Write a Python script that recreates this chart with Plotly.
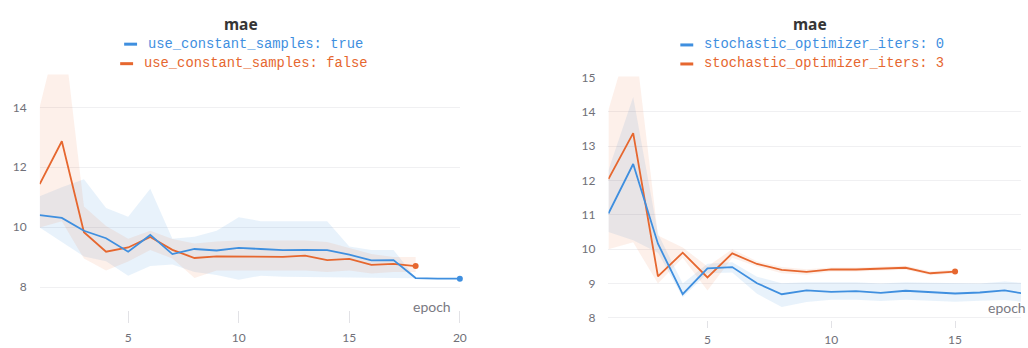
import plotly.graph_objects as go

# ---- data: mae per epoch (mean with min/max band across runs) ----
epochs_left = list(range(1, 21))
left_true_mean = [10.40, 10.31, 9.88, 9.63, 9.18, 9.74, 9.10, 9.27, 9.22, 9.31,
                  9.27, 9.23, 9.24, 9.23, 9.08, 8.89, 8.90, 8.30, 8.28, 8.28]
left_true_hi = [11.03, 11.33, 11.60, 10.64, 10.35, 11.28, 9.61, 9.68, 9.88, 10.33,
                10.20, 10.20, 10.20, 10.20, 9.35, 9.24, 9.24, 8.30, 8.28, 8.28]
left_true_lo = [9.99, 9.50, 9.02, 8.86, 8.38, 8.70, 8.75, 8.50, 8.40, 8.24,
                8.38, 8.34, 8.33, 8.32, 8.31, 8.31, 8.31, 8.30, 8.28, 8.28]

epochs_left_false = list(range(1, 19))
left_false_mean = [11.44, 12.87, 9.83, 9.18, 9.32, 9.67, 9.24, 8.97, 9.02, 9.02,
                   9.02, 9.01, 9.05, 8.90, 8.94, 8.74, 8.77, 8.70]
left_false_hi = [14.02, 17.00, 10.69, 10.04, 9.61, 9.88, 9.60, 9.45, 9.52, 9.55,
                 9.55, 9.55, 9.55, 9.50, 9.30, 9.10, 9.00, 9.00]
left_false_lo = [9.99, 10.20, 8.95, 8.55, 8.85, 9.24, 8.95, 8.30, 8.55, 8.55,
                 8.55, 8.55, 8.55, 8.50, 8.55, 8.45, 8.50, 8.50]

epochs_right_0 = list(range(1, 19))
right_0_mean = [11.04, 12.48, 10.16, 8.69, 9.44, 9.48, 9.01, 8.69, 8.80, 8.76,
                8.78, 8.73, 8.79, 8.76, 8.71, 8.74, 8.80, 8.68]
right_0_hi = [12.30, 14.43, 10.45, 9.00, 9.58, 9.62, 9.20, 9.01, 9.04, 9.04,
              9.04, 9.00, 9.04, 9.02, 9.00, 9.00, 9.06, 9.00]
right_0_lo = [10.50, 10.26, 9.90, 8.60, 9.30, 9.32, 8.70, 8.32, 8.46, 8.53,
              8.53, 8.49, 8.53, 8.50, 8.47, 8.50, 8.52, 8.45]

epochs_right_3 = list(range(1, 16))
right_3_mean = [12.04, 13.38, 9.21, 9.90, 9.18, 9.88, 9.57, 9.40, 9.34, 9.41,
                9.41, 9.44, 9.46, 9.30, 9.35]
right_3_hi = [14.05, 16.50, 10.40, 10.05, 9.50, 10.00, 9.65, 9.48, 9.42, 9.47,
              9.47, 9.50, 9.52, 9.36, 9.41]
right_3_lo = [10.00, 10.20, 9.00, 9.75, 8.80, 9.75, 9.50, 9.30, 9.26, 9.35,
              9.35, 9.38, 9.40, 9.24, 9.29]

left_names = ["use_constant_samples: true", "use_constant_samples: false"]
right_names = ["stochastic_optimizer_iters: 0", "stochastic_optimizer_iters: 3"]
chart_title = "mae"
x_title = "epoch"

# ---- styling ----
W, H = 1028, 348
BLUE = "#3f8fdf"
ORANGE = "#e6672f"
BLUE_FILL = "rgba(64,145,224,0.12)"
ORANGE_FILL = "rgba(235,108,48,0.10)"
GRID = "#f0f0f2"
TICKC = "#707078"
FONT = "Lato, 'Noto Sans', sans-serif"
MONO = "'Liberation Mono', 'DejaVu Sans Mono', monospace"


def px_x(p):
    return p / W


def px_y(p):
    return (H - p) / H


fig = go.Figure()


def add_series(x, mean, lo, hi, color, fill, xa, ya):
    fig.add_trace(go.Scatter(x=x, y=lo, mode="lines", line=dict(width=0),
                             xaxis=xa, yaxis=ya, showlegend=False, hoverinfo="skip"))
    fig.add_trace(go.Scatter(x=x, y=hi, mode="lines", line=dict(width=0),
                             fill="tonexty", fillcolor=fill,
                             xaxis=xa, yaxis=ya, showlegend=False, hoverinfo="skip"))


def add_line(x, mean, color, xa, ya):
    fig.add_trace(go.Scatter(x=x, y=mean, mode="lines", line=dict(color=color, width=1.8),
                             xaxis=xa, yaxis=ya, showlegend=False))
    fig.add_trace(go.Scatter(x=[x[-1]], y=[mean[-1]], mode="markers",
                             marker=dict(color=color, size=6),
                             xaxis=xa, yaxis=ya, showlegend=False, cliponaxis=False))


# left panel
add_series(epochs_left, left_true_mean, left_true_lo, left_true_hi, BLUE, BLUE_FILL, "x", "y")
add_series(epochs_left_false, left_false_mean, left_false_lo, left_false_hi, ORANGE, ORANGE_FILL, "x", "y")
add_line(epochs_left_false, left_false_mean, ORANGE, "x", "y")
add_line(epochs_left, left_true_mean, BLUE, "x", "y")

# right panel
add_series(epochs_right_0, right_0_mean, right_0_lo, right_0_hi, BLUE, BLUE_FILL, "x2", "y2")
add_series(epochs_right_3, right_3_mean, right_3_lo, right_3_hi, ORANGE, ORANGE_FILL, "x2", "y2")
add_line(epochs_right_3, right_3_mean, ORANGE, "x2", "y2")
fig.add_trace(go.Scatter(x=epochs_right_0, y=right_0_mean, mode="lines",
                         line=dict(color=BLUE, width=1.8), xaxis="x2", yaxis="y2",
                         showlegend=False))

xcommon = dict(showgrid=False, zeroline=False, showline=False, ticks="outside",
               tickcolor="#e2e2e6", tickwidth=1,
               tickfont=dict(family=FONT, size=12, color=TICKC))
ycommon = dict(showgrid=True, gridcolor=GRID, gridwidth=1, zeroline=False, showline=False,
               ticks="", ticklabelstandoff=12,
               tickfont=dict(family=FONT, size=12, color=TICKC))

fig.update_layout(
    width=W, height=H,
    margin=dict(l=0, r=0, t=0, b=0),
    paper_bgcolor="white", plot_bgcolor="white",
    showlegend=False,
    xaxis=dict(domain=[px_x(40), px_x(463)], range=[1, 20], tickvals=[5, 10, 15, 20],
               anchor="y", ticklen=12, ticklabelstandoff=4, **xcommon),
    yaxis=dict(domain=[px_y(314), px_y(70)], range=[7.226, 15.097], tickvals=[8, 10, 12, 14],
               anchor="x", **ycommon),
    xaxis2=dict(domain=[px_x(612.6), 1.0], range=[1, 17.663], tickvals=[5, 10, 15],
                anchor="y2", ticklen=7, ticklabelstandoff=2, **xcommon),
    yaxis2=dict(domain=[px_y(324), px_y(72)], range=[7.944, 15.028],
                tickvals=[8, 9, 10, 11, 12, 13, 14, 15], anchor="x2", **ycommon),
)

annotations = []
shapes = []

# titles
for cx in (242.5, 815.5):
    annotations.append(dict(x=px_x(cx), y=px_y(18), xref="paper", yref="paper",
                            text="<b>%s</b>" % chart_title, showarrow=False,
                            xanchor="center", yanchor="middle",
                            font=dict(family="'Noto Sans', sans-serif", size=15.5, color="#363636")))

# legends: short colored dash followed by colored label
legend_rows = [
    (125, 147, 38.5, left_names[0], BLUE),
    (121, 142.7, 58.7, left_names[1], ORANGE),
    (685, 706.7, 39.3, right_names[0], BLUE),
    (685, 706.7, 59.0, right_names[1], ORANGE),
]
for dash_x, text_x, yy, label, color in legend_rows:
    shapes.append(dict(type="line", xref="paper", yref="paper",
                       x0=px_x(dash_x), x1=px_x(dash_x + 13), y0=px_y(yy), y1=px_y(yy),
                       line=dict(color=color, width=3)))
    annotations.append(dict(x=px_x(text_x), y=px_y(yy), xref="paper", yref="paper",
                            text=label, showarrow=False, xanchor="left", yanchor="middle",
                            font=dict(family=MONO, size=13.8, color=color)))

# axis titles inside the plot, bottom right
annotations.append(dict(x=px_x(456), y=px_y(310), xref="paper", yref="paper", text=x_title,
                        showarrow=False, xanchor="right", yanchor="middle",
                        font=dict(family=FONT, size=14, color="#7a7a82")))
annotations.append(dict(x=px_x(992.7), y=px_y(311), xref="paper", yref="paper", text=x_title,
                        showarrow=False, xanchor="left", yanchor="middle",
                        font=dict(family=FONT, size=14, color="#7a7a82")))

fig.update_layout(annotations=annotations, shapes=shapes)

fig.write_html("out.html", config={"displayModeBar": False})
